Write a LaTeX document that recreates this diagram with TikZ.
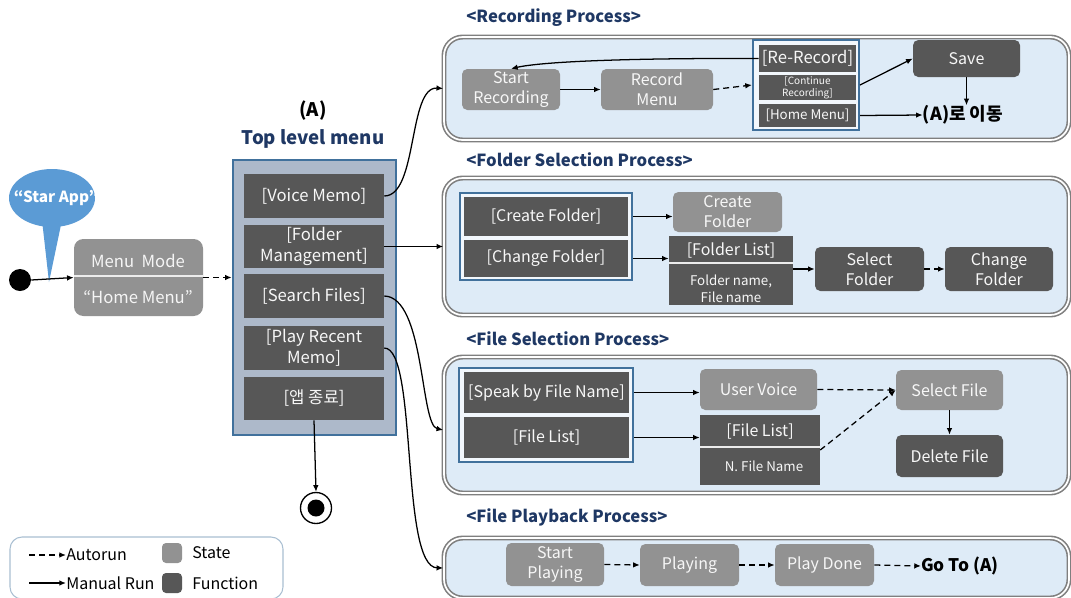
\documentclass[tikz,border=0pt]{standalone}
\usepackage{fontspec}
\setmainfont{Noto Sans CJK KR}
\usetikzlibrary{arrows.meta,calc,shapes.geometric}
\definecolor{stateg}{HTML}{929292}
\definecolor{funcg}{HTML}{575757}
\definecolor{panelbg}{HTML}{DEEBF7}
\definecolor{panelbd}{HTML}{7F7F7F}
\definecolor{grpbd}{HTML}{41719C}
\definecolor{menubg}{HTML}{ADB9CA}
\definecolor{navy}{HTML}{1F3864}
\definecolor{bubble}{HTML}{5B9BD5}
\newcommand\fMenu{\fontsize{12.5}{15.5}\selectfont}
\newcommand\fBox{\fontsize{12}{15}\selectfont}
\newcommand\fSmall{\fontsize{10}{12.5}\selectfont}
\newcommand\fTiny{\fontsize{7.5}{9}\selectfont}
\newcommand\fTitle{\fontsize{12.5}{15}\selectfont}
\newcommand\bx[7]{\node[#6, minimum width={(#4-#2)*0.75pt}, minimum height={(#5-#3)*0.75pt}] (#1) at ({(#2+#4)/2},{(#3+#5)/2}) {#7};}
\tikzset{
  arr/.style={-{Latex[length=5pt,width=4.2pt]}, line width=0.95pt},
  darr/.style={arr, dash pattern=on 4.5pt off 3pt},
  base/.style={inner sep=0pt, align=center, text=white!94!gray, font=\fBox},
  state/.style={base, fill=stateg, rounded corners=4pt},
  func/.style={base, fill=funcg},
  funcr/.style={func, rounded corners=4pt},
  panel/.style={draw=panelbd, double=white, double distance=1.3pt, line width=1.2pt, fill=panelbg, rounded corners=14pt, inner sep=0pt},
  grp/.style={draw=grpbd, line width=1.6pt, fill=panelbg!40!white, inner sep=0pt},
  menuitem/.style={func, font=\fMenu},
  ptitle/.style={text=navy, font=\bfseries\fTitle, anchor=west, inner sep=0pt},
  divline/.style={draw=white!85!gray, line width=0.9pt},
  plain/.style={inner sep=0pt, align=center}
}
\begin{document}
\begin{tikzpicture}[x=0.75pt,y=-0.75pt]
\useasboundingbox (0,0) rectangle (1071,597);
\fill[white] (0,0) rectangle (1071,597);

% ---------- start / bubble / menu mode ----------
\node[circle, fill=black, minimum size={22*0.75pt}, inner sep=0pt] (start) at (20,280) {};
\fill[bubble] (42,220) -- (49,282) -- (62,220) -- cycle;
\node[ellipse, fill=bubble, minimum width={86*0.75pt}, minimum height={58*0.75pt}, inner sep=0pt] (bub) at (52,198) {};
\node[plain, text=white, font=\bfseries\fontsize{11.5}{13}\selectfont] (bubtxt) at (56,198) {“Star App”};

\bx{mm}{74}{239}{203}{316}{state, rounded corners=7pt}{}
\draw[divline] ($(mm.west)+(0,-1.5)$) -- ($(mm.east)+(0,-1.5)$);
\node[plain, text=white!92!gray, font=\fMenu] (mmt) at (138,261) {Menu\ \ Mode};
\node[plain, text=white!92!gray, font=\fMenu] (mmh) at (138,297) {“Home Menu”};

\draw[arr] (start.east) -- (mm.west);

% ---------- top level menu ----------
\node[plain, font=\bfseries\fontsize{14}{16}\selectfont] (Atxt) at (313,111) {(A)};
\node[plain, text=navy, font=\bfseries\fontsize{14}{16}\selectfont] (tlm) at (313,139) {Top level menu};
\bx{mbox}{233}{160}{396}{435}{draw=grpbd, line width=2pt, fill=menubg, inner sep=0pt}{}
\bx{vm}{244}{174}{384}{218}{menuitem}{[Voice Memo]}
\bx{fmg}{244}{225}{384}{268}{menuitem}{[Folder\\Management]}
\bx{sfl}{244}{274}{384}{318}{menuitem}{[Search Files]}
\bx{prm}{244}{326}{384}{370}{menuitem}{[Play Recent\\Memo]}
\bx{ext}{244}{377}{384}{420}{menuitem}{[앱 종료]}

\draw[darr] (mm.east) -- (mm.east -| mbox.west);

\node[circle, draw=black, line width=1pt, fill=white, minimum width={31*0.75pt}, inner sep=0pt] (endo) at (316,508) {};
\node[circle, fill=black, minimum size={17*0.75pt}, inner sep=0pt] (endi) at (316,508) {};
\draw[arr] (ext.south) -- (endo.north);

% ---------- panels ----------
\node[ptitle] (t1) at (466,18) {<Recording Process>};
\bx{rec}{444}{37}{1069}{140}{panel}{}
\node[ptitle] (t2) at (466,160) {<Folder Selection Process>};
\bx{fol}{444}{178}{1069}{315}{panel}{}
\node[ptitle] (t3) at (466,339) {<File Selection Process>};
\bx{fsel}{444}{357}{1069}{493}{panel}{}
\node[ptitle] (t4) at (466,517) {<File Playback Process>};
\bx{play}{444}{538}{1069}{598}{panel}{}

% menu -> panels
\draw[arr] (vm.east) .. controls (418,196) and (408,86) .. (rec.west);
\draw[arr] (fmg.east) -- (fol.west);
\draw[arr] (sfl.east) .. controls (425,297) and (420,425) .. ($(fsel.west)+(0,5)$);
\draw[arr] (prm.east) .. controls (418,348) and (400,567) .. (play.west);

% ---------- recording ----------
\bx{sr}{462}{69}{560}{110}{state}{Start\\Recording}
\bx{rm}{601}{69}{713}{110}{state}{Record\\Menu}
\bx{rgrp}{753}{40}{859}{130}{grp}{}
\bx{rr}{759}{45}{856}{72}{func, font=\fMenu}{[Re-Record]}
\bx{cr}{759}{75}{856}{100}{func, font=\fTiny}{[Continue\\Recording]}
\bx{hm}{759}{104}{856}{127}{func, font=\fSmall}{[Home Menu]}
\bx{sv}{913}{40}{1020}{77}{funcr}{Save}
\node[plain, font=\bfseries\fontsize{13.5}{15}\selectfont] (goA) at (963,115) {(A)로 이동};

\draw[arr] (sr.east) -- (rm.west);
\draw[darr] (rm.east) -- (rgrp.west);
\draw[arr] (rr.west) .. controls (620,58) and (540,62) .. (sr.north);
\draw[arr] (rgrp.east) -- (sv.west);
\draw[arr] (hm.east -| rgrp.east) -- (goA.west);
\draw[arr] (sv.south) -- (goA.north -| sv.south);

% ---------- folder selection ----------
\bx{fgrp}{460}{193}{632}{280}{grp}{}
\bx{cf}{464}{197}{628}{236}{func}{[Create Folder]}
\bx{chf}{464}{240}{628}{277}{func}{[Change Folder]}
\bx{cfs}{673}{192}{782}{232}{state}{Create\\Folder}
\bx{flb}{669}{236}{793}{305}{func}{}
\draw[divline] (669,263) -- (793,263);
\node[plain, text=white!94!gray, font=\fBox] (fl1) at (731,250) {[Folder List]};
\node[plain, text=white!94!gray, font=\fSmall] (fl2) at (731,289) {Folder name,\\File name};
\bx{sf}{815}{247}{924}{291}{funcr}{Select\\Folder}
\bx{chg}{945}{247}{1053}{291}{funcr}{Change\\Folder}

\draw[arr] (cf.east -| fgrp.east) -- (cf.east -| cfs.west);
\draw[arr] (chf.east -| fgrp.east) -- (chf.east -| flb.west);
\draw[arr] (sf.west -| flb.east) -- (sf.west);
\draw[darr] (sf.east) -- (chg.west);

% ---------- file selection ----------
\bx{sgrp}{459}{368}{633}{462}{grp}{}
\bx{sbn}{464}{372}{629}{413}{func}{[Speak by File Name]}
\bx{flst}{464}{417}{629}{458}{func}{[File List]}
\bx{uv}{700}{369}{817}{410}{state}{User Voice}
\bx{flb2}{700}{415}{820}{485}{func}{}
\draw[divline] (700,447) -- (820,447);
\node[plain, text=white!94!gray, font=\fBox] (fl3) at (760,431) {[File List]};
\node[plain, text=white!94!gray, font=\fSmall] (fl4) at (764,466) {N. File Name};
\bx{sfile}{896}{370}{1003}{410}{state}{Select File}
\bx{dfile}{896}{435}{1003}{477}{funcr}{Delete File}

\draw[arr] (sbn.east -| sgrp.east) -- (sbn.east -| uv.west);
\draw[arr] (flst.east -| sgrp.east) -- (flst.east -| flb2.west);
\draw[darr] (uv.east) -- (sfile.west);
\draw[darr] (flb2.east) -- (sfile.west);
\draw[arr] (sfile.south) -- (dfile.north);

% ---------- playback ----------
\bx{sp}{506}{543}{604}{586}{state}{Start\\Playing}
\bx{pl}{640}{544}{739}{586}{state}{Playing}
\bx{pd}{775}{544}{874}{586}{state}{Play Done}
\node[plain, font=\bfseries\fontsize{13}{15}\selectfont] (gt) at (960,566) {Go To (A)};
\draw[darr] (sp.east) -- (pl.west);
\draw[darr] (pl.east) -- (pd.west);
\draw[darr] (pd.east) -- (gt.west);

% ---------- legend ----------
\bx{leg}{10}{537}{283}{599}{draw=grpbd!45, line width=0.8pt, rounded corners=9pt, inner sep=0pt}{}
\node[plain, anchor=west, font=\fBox] (lauto) at (66,555) {Autorun};
\coordinate (la0) at (29,555);
\draw[darr] (la0) -- (lauto.west);
\node[plain, anchor=west, font=\fBox] (lman) at (66,583) {Manual Run};
\coordinate (lm0) at (29,583);
\draw[arr] (lm0) -- (lman.west);
\bx{lsw1}{162}{543}{182}{563}{state, rounded corners=3pt}{}
\bx{lsw2}{162}{573}{182}{593}{func, rounded corners=3pt}{}
\node[plain, anchor=west, font=\fBox] (lst) at (192,553) {State};
\node[plain, anchor=west, font=\fBox] (lfn) at (192,583) {Function};
\end{tikzpicture}
\end{document}
